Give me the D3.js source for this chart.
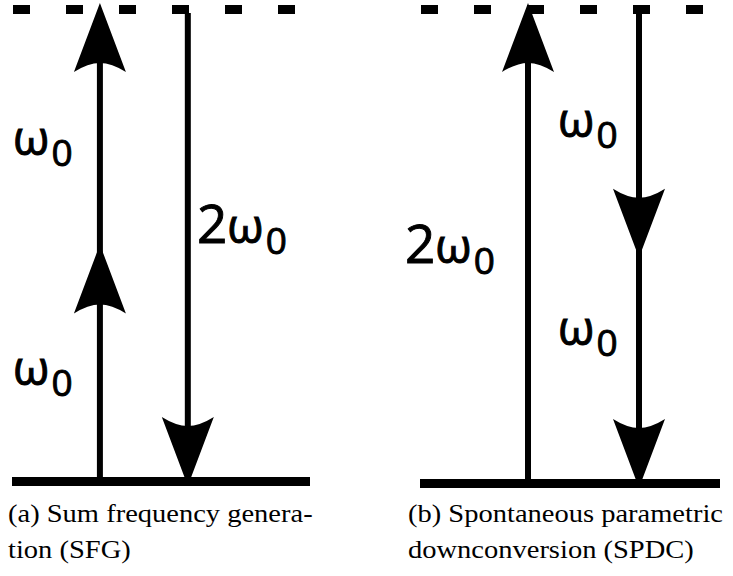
<!DOCTYPE html>
<html>
<head>
<meta charset="utf-8">
<script src="https://cdn.jsdelivr.net/npm/d3@7"></script>
<style>
  body { margin: 0; background: #fff; }
  svg { display: block; }
</style>
</head>
<body>
<svg id="chart" width="733" height="576"></svg>
<script>
// Energy scale in units of ω0: ground state 0, virtual level 2ω0
const levelValues = [0, 2];

// (a) Sum frequency generation: two ω0 photons up, one 2ω0 photon down
const sfgUp = [[0, 1], [1, 2]];
const sfgDown = [[2, 0]];
const sfgLabels = [
  { col: "left", at: 1.37, main: "", sym: "ω", sub: "0" },
  { col: "left", at: 0.418, main: "", sym: "ω", sub: "0" },
  { col: "mid", at: 1.006, main: "2", sym: "ω", sub: "0" }
];

// (b) Spontaneous parametric downconversion: one 2ω0 photon up, two ω0 photons down
const spdcUp = [[0, 2]];
const spdcDown = [[2, 0.95], [0.95, 0]];
const spdcLabels = [
  { col: "right", at: 1.447, main: "", sym: "ω", sub: "0" },
  { col: "left", at: 0.928, main: "2", sym: "ω", sub: "0" },
  { col: "right", at: 0.59, main: "", sym: "ω", sub: "0" }
];

const captionsA = ["(a) Sum frequency genera-", "tion (SFG)"];
const captionsB = ["(b) Spontaneous parametric", "downconversion (SPDC)"];

const svg = d3.select("#chart");

// concave-based arrowhead with its tip at (x, yt); dir = -1 points up, +1 points down
function headPath(x, yt, dir) {
  const L = 69, W = 26, N = 9;
  const yb = yt - dir * L, ym = yt - dir * (L - N);
  const p = d3.path();
  p.moveTo(x, yt);
  p.lineTo(x + W, yb);
  p.quadraticCurveTo(x + W * 0.45, ym, x, ym);
  p.quadraticCurveTo(x - W * 0.45, ym, x - W, yb);
  p.closePath();
  return p.toString();
}

function drawPanel(cfg) {
  const g = svg.append("g");
  const x = d3.scaleLinear().domain([0, 1]).range(cfg.xRange);
  const y = d3.scaleLinear().domain([0, 2]).range(cfg.yRange);
  const xUp = x(cfg.upFrac), xDown = x(cfg.downFrac);

  // vertical transition lines
  const upSpan = d3.extent(cfg.up.flat());
  g.append("line")
    .attr("x1", xUp).attr("x2", xUp)
    .attr("y1", y(upSpan[0]) - 4).attr("y2", y(upSpan[1]) + 20)
    .attr("stroke", "#000").attr("stroke-width", 6);
  const downSpan = d3.extent(cfg.down.flat());
  g.append("line")
    .attr("x1", xDown).attr("x2", xDown)
    .attr("y1", y(downSpan[1]) + 10).attr("y2", y(downSpan[0]) - 20)
    .attr("stroke", "#000").attr("stroke-width", 6);

  // arrowheads at the end of every photon
  g.selectAll("path.up").data(cfg.up).join("path")
    .attr("class", "up")
    .attr("d", d => headPath(xUp, y(d[1]), -1))
    .attr("fill", "#000");
  g.selectAll("path.down").data(cfg.down).join("path")
    .attr("class", "down")
    .attr("d", d => headPath(xDown, y(d[1]), 1))
    .attr("fill", "#000");

  // ground level (solid) and virtual level (dashed)
  g.append("line")
    .attr("x1", cfg.xRange[0]).attr("x2", cfg.xRange[1])
    .attr("y1", y(levelValues[0]) - 4.5).attr("y2", y(levelValues[0]) - 4.5)
    .attr("stroke", "#000").attr("stroke-width", 9);
  g.append("line")
    .attr("x1", cfg.xRange[0] + 1).attr("x2", cfg.xRange[1])
    .attr("y1", y(levelValues[1]) + 6.5).attr("y2", y(levelValues[1]) + 6.5)
    .attr("stroke", "#000").attr("stroke-width", 9)
    .attr("stroke-dasharray", "17,36");

  // photon energy labels
  const lab = g.selectAll("text.lab").data(cfg.labels).join("text")
    .attr("class", "lab")
    .attr("x", d => cfg.labelX[d.col])
    .attr("y", d => y(d.at))
    .attr("font-family", "'Open Sans', sans-serif")
    .attr("fill", "#000")
    .attr("stroke", "#000")
    .attr("stroke-width", 0.9);
  lab.append("tspan").attr("font-size", 53).text(d => d.main);
  lab.append("tspan").attr("font-size", 47).text(d => d.sym);
  lab.append("tspan").attr("font-size", 37).attr("dy", 11).attr("dx", 2).text(d => d.sub);

  // caption, set slightly wide like the document's serif face
  g.selectAll("text.cap").data(cfg.captions).join("text")
    .attr("class", "cap")
    .attr("x", cfg.capX)
    .attr("y", (d, i) => 522 + i * 36)
    .attr("font-family", "'Liberation Serif', 'DejaVu Serif', serif")
    .attr("font-size", 25)
    .attr("fill", "#000")
    .text(d => d)
    .each(function () {
      const w = this.getComputedTextLength();
      d3.select(this)
        .attr("textLength", w * 1.14)
        .attr("lengthAdjust", "spacingAndGlyphs");
    });
}

drawPanel({
  xRange: [12, 310], yRange: [486, 3], upFrac: 0.295, downFrac: 0.59,
  up: sfgUp, down: sfgDown, labels: sfgLabels,
  labelX: { left: 13, mid: 197 }, captions: captionsA, capX: 8
});
drawPanel({
  xRange: [420, 720], yRange: [488, 3], upFrac: 0.36, downFrac: 0.73,
  up: spdcUp, down: spdcDown, labels: spdcLabels,
  labelX: { left: 405, right: 558 }, captions: captionsB, capX: 408
});
</script>
</body>
</html>
